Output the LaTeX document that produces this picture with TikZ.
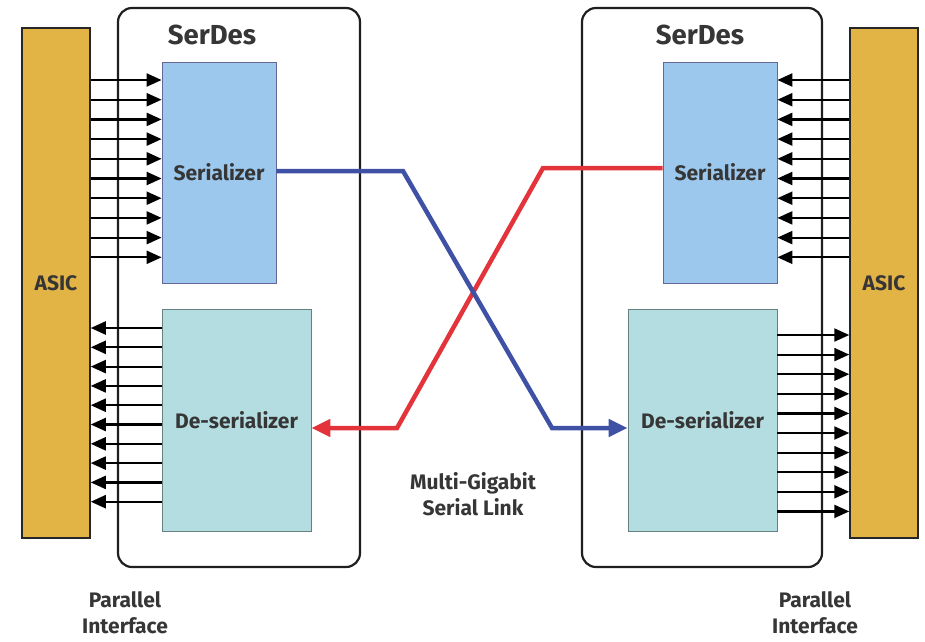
\documentclass[tikz,border=0pt]{standalone}
\usepackage{fontspec}
\setmainfont{Fira Sans}
\usetikzlibrary{arrows.meta,calc}
\definecolor{asicgold}{HTML}{E2B445}
\definecolor{serblue}{HTML}{9CC8EE}
\definecolor{desblue}{HTML}{B4DDE2}
\definecolor{txt}{HTML}{363636}
\definecolor{linkblue}{HTML}{3F51A5}
\definecolor{linkred}{HTML}{E3343C}
\tikzset{
  asic/.style={draw=black!85,line width=1.5pt,fill=asicgold,minimum width=68pt,minimum height=510pt,inner sep=0pt},
  serdes/.style={draw=black!88,line width=2.2pt,fill=white,rounded corners=14pt,minimum width=240pt,minimum height=559pt,inner sep=0pt},
  serbox/.style={draw=gray!80!blue,line width=0.8pt,fill=serblue,minimum width=114pt,minimum height=221pt,inner sep=0pt},
  desbox/.style={draw=gray!80!teal,line width=0.8pt,fill=desblue,minimum width=149pt,minimum height=222pt,inner sep=0pt},
  lbl/.style={text=txt,font=\bfseries\fontsize{21}{26}\selectfont,align=center},
  title/.style={text=txt,font=\bfseries\fontsize{27.5}{30}\selectfont},
  par/.style={line width=2.2pt,draw=black,-{Triangle[length=15pt,width=13pt]}},
  link/.style={line width=4.5pt,-{Triangle[length=19pt,width=17pt]}},
}
\begin{document}
\begin{tikzpicture}[x=1pt,y=-1pt]
\useasboundingbox (0,0) rectangle (925,641);
% SerDes frames
\node[serdes,minimum width=242pt] (sdL) at (239,287.5) {};
\node[serdes] (sdR) at (702,287.5) {};
% ASICs
\node[asic] (asicL) at (56,283) {};
\node[asic] (asicR) at (884,283) {};
\node[lbl] (asicLt) at (56,283) {ASIC};
\node[lbl] (asicRt) at (884,283) {ASIC};
% titles
\node[title] (tL) at (212,35) {SerDes};
\node[title] (tR) at (700,35) {SerDes};
% blocks
\node[serbox] (serL) at (219,172.5) {};
\node[lbl] at (219,172) {Serializer};
\node[desbox] (desL) at (236.5,420) {};
\node[lbl] at (236.5,420) {De-serializer};
\node[serbox] (serR) at (720,172.5) {};
\node[lbl] at (720,172) {Serializer};
\node[desbox] (desR) at (702.5,420) {};
\node[lbl] at (702.5,420) {De-serializer};
% parallel arrows
\foreach \y in {80,99.7,119.4,139.1,158.8,178.5,198.2,217.9,237.6,257.3}{
  \draw[par] (asicL.east |- 0,\y) -- (serL.west |- 0,\y);
  \draw[par] (asicR.west |- 0,\y) -- (serR.east |- 0,\y);
}
\foreach \y in {328,347.3,366.6,385.9,405.2,424.5,443.8,463.1,482.4,501.7}{
  \draw[par] (desL.west |- 0,\y) -- (asicL.east |- 0,\y);
}
\foreach \y in {335,354.6,374.2,393.8,413.4,433,452.6,472.2,491.8,511.4}{
  \draw[par] (desR.east |- 0,\y) -- (asicR.west |- 0,\y);
}
% serial links
\coordinate (b1) at (403,171);
\coordinate (b2) at (552,428);
\coordinate (r1) at (543,168);
\coordinate (r2) at (397,428);
\draw[link,draw=linkred] (serR.west |- 0,168) -- (r1) -- (r2) -- (desL.east |- 0,428);
\draw[link,draw=linkblue] (serL.east |- 0,171) -- (b1) -- (b2) -- (desR.west |- 0,428);
% labels
\node[lbl] (mg) at (473,494) {Multi-Gigabit\\Serial Link};
\node[lbl] (piL) at (125,613) {Parallel\\Interface};
\node[lbl] (piR) at (815,613) {Parallel\\Interface};
\end{tikzpicture}
\end{document}
